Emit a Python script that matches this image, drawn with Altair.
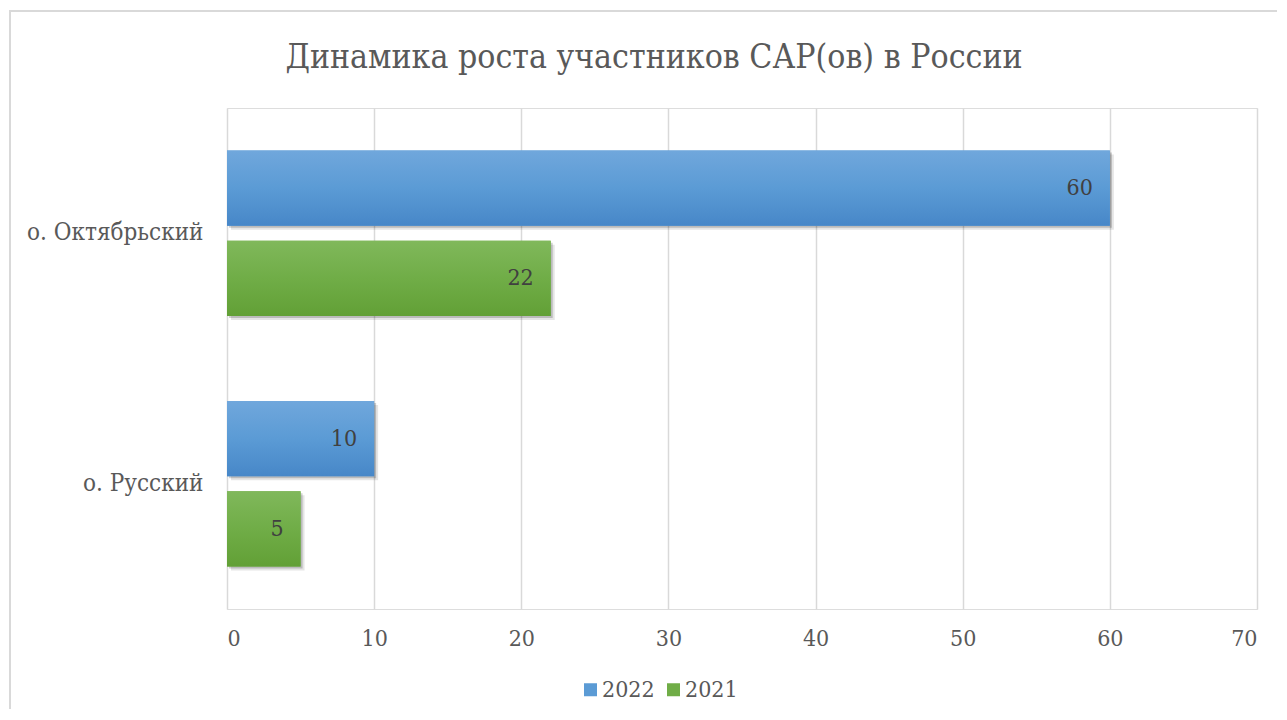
import altair as alt
import pandas as pd

categories = ["о. Октябрьский", "о. Русский"]
years = ["2022", "2021"]
values_2022 = [60, 10]
values_2021 = [22, 5]
x_ticks = [0, 10, 20, 30, 40, 50, 60, 70]
title_text = "Динамика роста участников САР(ов) в России"

rows = []
for c, v in zip(categories, values_2022):
    rows.append({"category": c, "year": "2022", "value": v})
for c, v in zip(categories, values_2021):
    rows.append({"category": c, "year": "2021", "value": v})
df = pd.DataFrame(rows)

FONT = "DejaVu Serif Condensed, DejaVu Serif"
GREY = "#595959"

W, H = 1030, 501
P_IN, P_OUT = 0.1667, 0.472
BAND = H / 2
STEP = BAND / (2 - P_IN + 2 * P_OUT)
P_POINT = (BAND / STEP - 1) / 2

y_enc = alt.Y("category:N", sort=categories, title=None,
              scale=alt.Scale(paddingInner=0, paddingOuter=0),
              axis=alt.Axis(domain=False, ticks=False, labelPadding=24,
                            labelFont=FONT, labelFontSize=24, labelColor=GREY))
x_enc = alt.X("value:Q", title=None,
              scale=alt.Scale(domain=[0, 70], nice=False),
              axis=alt.Axis(values=x_ticks, grid=True, gridColor="#D9D9D9",
                            gridWidth=1.5, domain=False, ticks=False,
                            labelPadding=18, labelFont=FONT, labelFontSize=23,
                            labelColor=GREY))


def yoff(shift=0):
    sc = alt.Scale(domain=years, paddingInner=P_IN, paddingOuter=P_OUT,
                   range=[shift, BAND + shift])
    return alt.YOffset("year:N", sort=years, scale=sc)


base = alt.Chart(df).encode(x=x_enc, y=y_enc, yOffset=yoff())

shadow1 = alt.Chart(df).mark_bar(color="#000000", opacity=0.10, xOffset=4).encode(
    x=x_enc, y=y_enc, yOffset=yoff(4))
shadow2 = alt.Chart(df).mark_bar(color="#000000", opacity=0.18, xOffset=2).encode(
    x=x_enc, y=y_enc, yOffset=yoff(2))

legend_bars = base.mark_bar().encode(
    color=alt.Color("year:N", sort=years,
                    scale=alt.Scale(domain=years, range=["#5B9BD5", "#70AD47"]),
                    legend=alt.Legend(orient="none", legendX=352, legendY=570,
                                      direction="horizontal", title=None,
                                      symbolType="square", symbolSize=169,
                                      symbolStrokeWidth=0,
                                      labelFont=FONT, labelFontSize=23,
                                      labelColor=GREY, columnPadding=7,
                                      labelOffset=0))
)


def grad(top, mid, bot):
    return alt.Gradient(gradient="linear", x1=0, x2=0, y1=0, y2=1,
                        stops=[alt.GradientStop(color=top, offset=0),
                               alt.GradientStop(color=mid, offset=0.5),
                               alt.GradientStop(color=bot, offset=1)])


blue_bars = base.transform_filter(alt.datum.year == "2022").mark_bar(
    fill=grad("#70A7DC", "#5B9BD5", "#4787C8"))
green_bars = base.transform_filter(alt.datum.year == "2021").mark_bar(
    fill=grad("#80B85B", "#70AD47", "#62A036"))

labels = alt.Chart(df).mark_text(align="right", baseline="middle", dx=-17,
                                 font=FONT, fontSize=23, color="#404040").encode(
    x=x_enc, y=y_enc,
    yOffset=alt.YOffset("year:N", sort=years,
                        scale=alt.Scale(type="point", domain=years, padding=P_POINT)),
    text=alt.Text("value:Q"))

frame = alt.Chart(alt.Data(values=[{}])).mark_rect(
    fillOpacity=0, stroke="#D9D9D9", strokeWidth=2).encode(
    x=alt.value(-217), x2=alt.value(1100), y=alt.value(-97), y2=alt.value(650))

title = alt.Chart(alt.Data(values=[{"t": title_text}])).mark_text(
    font=FONT, fontSize=33.5, color=GREY, align="center", baseline="alphabetic").encode(
    text="t:N", x=alt.value(427), y=alt.value(-40))

chart = alt.layer(frame, title, shadow1, shadow2, legend_bars, blue_bars,
                  green_bars, labels).resolve_scale(yOffset="independent").properties(
    width=W, height=H,
    autosize=alt.AutoSizeParams(type="none"),
    padding={"left": 219, "top": 100, "right": 20, "bottom": 100},
).configure_view(stroke=None).configure(background="white")

chart.save("out.html", embed_options={"renderer": "svg", "actions": False})
